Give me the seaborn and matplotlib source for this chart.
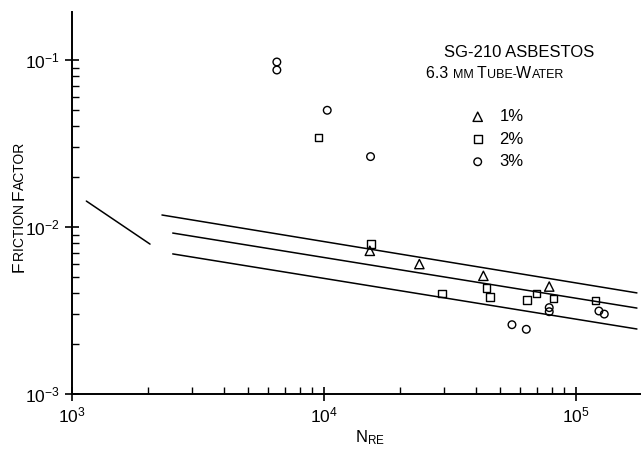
import numpy as np
import pandas as pd
import matplotlib
matplotlib.use("Agg")
from matplotlib import pyplot as plt
import seaborn as sns

# data
re_1 = [15200, 23900, 42900, 78300]
f_1 = [0.0072, 0.0060, 0.0051, 0.0044]

re_2 = [9500, 15400, 29400, 44200, 45600, 63900, 69800, 81500, 119700]
f_2 = [0.0344, 0.0079, 0.0040, 0.00433, 0.0038, 0.00364, 0.0040, 0.00373, 0.00362]

re_3 = [6500, 6500, 10300, 15300, 55700, 63500, 78300, 78300, 123300, 129500]
f_3 = [0.0973, 0.0871, 0.050, 0.0264, 0.0026, 0.00244, 0.00329, 0.00311, 0.00314, 0.00301]

# correlation lines (straight on log-log)
re_lam = [1140, 2040]
f_lam = [0.0143, 0.0079]
re_top = [2275, 174500]
f_top = [0.0118, 0.00403]
re_mid = [2510, 174500]
f_mid = [0.0092, 0.00327]
re_bot = [2510, 174500]
f_bot = [0.0069, 0.00245]

labels = ["1%", "2%", "3%"]

sns.set_style("ticks")
plt.rcParams["font.family"] = ["Liberation Sans", "DejaVu Sans"]
plt.rcParams["mathtext.default"] = "regular"
for k in ["text.color", "axes.labelcolor", "xtick.color", "ytick.color", "axes.edgecolor"]:
    plt.rcParams[k] = "black"

fig = plt.figure(figsize=(6.41, 4.53), dpi=100)
ax = fig.add_axes([72 / 641, 59 / 453, 569 / 641, 382 / 453])

for xs, ys in [(re_lam, f_lam), (re_top, f_top), (re_mid, f_mid), (re_bot, f_bot)]:
    sns.lineplot(x=xs, y=ys, ax=ax, color="black", lw=1.1, legend=False)

handles = []
for xs, ys, m, s in [(re_1, f_1, "^", 45), (re_2, f_2, "s", 30), (re_3, f_3, "o", 30)]:
    sns.scatterplot(x=xs, y=ys, ax=ax, marker=m, s=s, facecolors="none",
                    edgecolors="black", linewidths=1.0, legend=False)
    handles.append(ax.collections[-1])

ax.set_xscale("log")
ax.set_yscale("log")
ax.set_xlim(1e3, 10 ** (3 + 569 / 252))
ax.set_ylim(1e-3, 10 ** (-1 + 48 / 167))

sns.despine(ax=ax)
for sp in ["left", "bottom"]:
    ax.spines[sp].set_linewidth(1.4)
ax.tick_params(which="major", direction="inout", length=10, width=1.2, labelsize=12.5)
ax.tick_params(which="minor", direction="in", length=5, width=1.0)

ax.legend(handles, labels, loc="upper left", bbox_to_anchor=(0.672, 0.785),
          frameon=False, fontsize=12, handletextpad=0.8, labelspacing=0.45,
          handlelength=1.0)


def smallcaps(parts, x, y, big, small, rotation=0):
    prev = None
    for txt, isbig in parts:
        size = big if isbig else small
        if prev is None:
            prev = ax.text(x, y, txt, transform=ax.transAxes, fontsize=size,
                           ha="left", va="baseline", rotation=rotation,
                           rotation_mode="anchor")
        elif rotation == 0:
            prev = ax.annotate(txt, xy=(1, y), xycoords=(prev, ax.transAxes),
                               ha="left", va="baseline", fontsize=size,
                               annotation_clip=False)
        else:
            prev = ax.annotate(txt, xy=(x, 1), xycoords=(ax.transAxes, prev),
                               ha="left", va="baseline", fontsize=size,
                               rotation=rotation, rotation_mode="anchor",
                               annotation_clip=False)


smallcaps([("SG-210 ASBESTOS", True)], 0.654, 0.882, 12, 9)
smallcaps([("6.3 ", True), ("MM ", False), ("T", True), ("UBE-", False),
           ("W", True), ("ATER", False)], 0.622, 0.827, 11.5, 9)
smallcaps([("F", True), ("RICTION ", False), ("F", True), ("ACTOR", False)],
          -0.085, 0.32, 12.5, 10, rotation=90)

ax.text(0.524, -0.115, r"$N_{RE}$", transform=ax.transAxes, fontsize=12,
        ha="center", va="center")

fig.savefig("out.png", dpi=100)
